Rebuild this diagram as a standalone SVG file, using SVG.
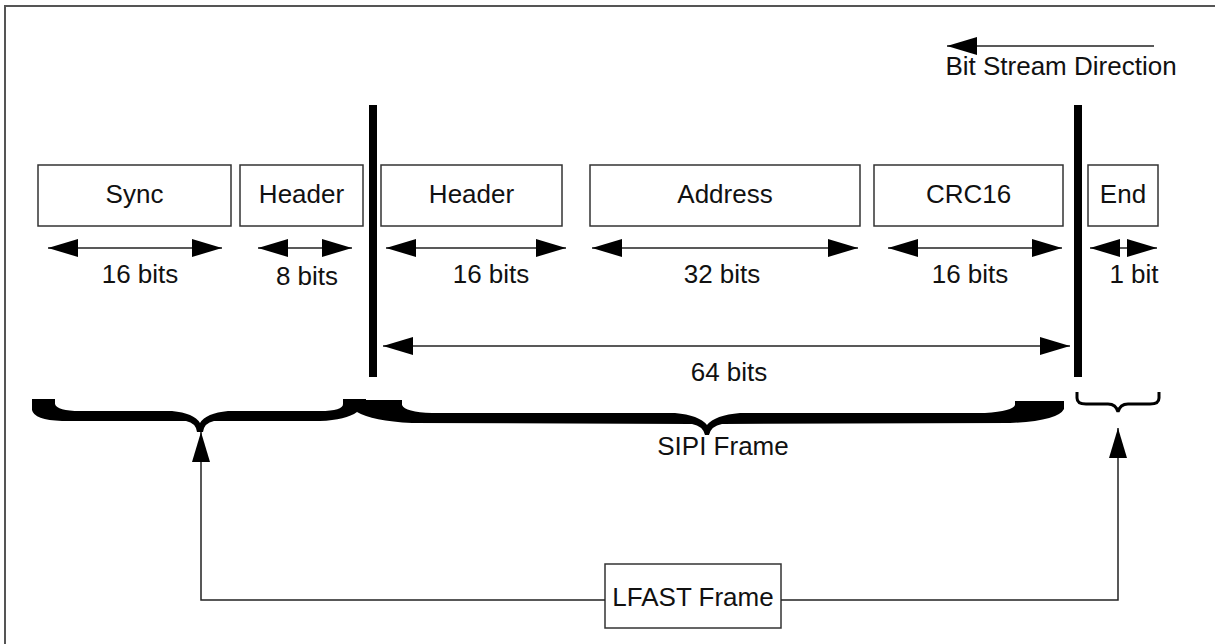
<svg xmlns="http://www.w3.org/2000/svg" width="1215" height="644" viewBox="0 0 1215 644">
<defs>
<marker id="ah" markerUnits="userSpaceOnUse" markerWidth="30" markerHeight="18" refX="30" refY="9" orient="auto-start-reverse" viewBox="0 0 30 18">
<path d="M0,0 L30,9 L0,18 Z" fill="#000"/>
</marker>
</defs>
<style>
.box{fill:#fff;stroke:#333;stroke-width:1.5}
.t{font-family:"Liberation Sans",Arial,sans-serif;font-size:26px;fill:#111;text-anchor:middle}
.dim{stroke:#222;stroke-width:1.5;fill:none;marker-start:url(#ah);marker-end:url(#ah)}
.con{stroke:#222;stroke-width:1.5;fill:none;marker-end:url(#ah)}
.bar{fill:#000}
.brace{fill:#000}
</style>
<rect width="1215" height="644" fill="#fff"/>
<rect x="5" y="6" width="1230" height="700" fill="none" stroke="#555" stroke-width="2"/>

<g id="direction">
<line x1="1154" y1="46" x2="947" y2="46" class="con"/>
<text x="1061" y="75" class="t">Bit Stream Direction</text>
</g>

<g id="sync"><rect x="38" y="165" width="193" height="61" class="box"/><text x="134.5" y="203" class="t">Sync</text></g>
<g id="header1"><rect x="240" y="165" width="123" height="61" class="box"/><text x="301.5" y="203" class="t">Header</text></g>
<g id="header2"><rect x="381" y="165" width="181" height="61" class="box"/><text x="471.5" y="203" class="t">Header</text></g>
<g id="address"><rect x="590" y="165" width="270" height="61" class="box"/><text x="725" y="203" class="t">Address</text></g>
<g id="crc16"><rect x="874" y="165" width="189" height="61" class="box"/><text x="968.5" y="203" class="t">CRC16</text></g>
<g id="end"><rect x="1088" y="165" width="70" height="61" class="box"/><text x="1123" y="203" class="t">End</text></g>

<g id="dividers">
<rect x="369" y="105" width="8" height="272" class="bar"/>
<rect x="1074" y="105" width="8" height="272" class="bar"/>
</g>

<g id="dimensions">
<line x1="48" y1="248" x2="222" y2="248" class="dim"/>
<text x="140" y="283" class="t">16 bits</text>
<line x1="258" y1="248" x2="352" y2="248" class="dim"/>
<text x="307" y="285" class="t">8 bits</text>
<line x1="386" y1="248" x2="566" y2="248" class="dim"/>
<text x="491" y="283" class="t">16 bits</text>
<line x1="592" y1="248" x2="858" y2="248" class="dim"/>
<text x="722" y="283" class="t">32 bits</text>
<line x1="888" y1="248" x2="1062" y2="248" class="dim"/>
<text x="970" y="283" class="t">16 bits</text>
<line x1="1090" y1="248" x2="1157" y2="248" class="dim"/>
<text x="1134" y="283" class="t">1 bit</text>
<line x1="383" y1="346" x2="1070" y2="346" class="dim"/>
<text x="729" y="381" class="t">64 bits</text>
</g>

<g id="braces">
<path class="brace" d="M32,399 L55,399 L55,404 Q57,411 80,411 L172,411 Q194,413 200,423 Q206,413 228,411 L320,411 Q343,411 343,404 L343,399 L366,399 L366,408 L357,412 Q346,420 320,421 L214,421 Q204,423 203,432 L197,432 Q196,423 186,421 L62,421 Q34,420 32,410 Z"/>
<path class="brace" d="M360,400 L402,400 L402,405 Q405,412 432,413 L675,413 Q699,415 707,425 Q715,415 740,413 L985,413 Q1013,411 1015,405 L1015,401 L1064,401 L1064,409 Q1058,421 1010,423 L722,424 Q711,426 709,435 L705,435 Q703,426 692,424 L412,423 Q372,421 357,412 Z"/>
<path d="M1077,392 L1077,398 Q1077,404 1086,404 L1108,404 Q1116,404 1118,412 Q1120,404 1128,404 L1150,404 Q1159,404 1159,398 L1159,392" fill="none" stroke="#000" stroke-width="3"/>
<text x="723" y="455" class="t">SIPI Frame</text>
</g>

<g id="lfast">
<rect x="605" y="564" width="176" height="64" class="box"/>
<text x="693" y="606" class="t">LFAST Frame</text>
</g>

<g id="connectors">
<polyline points="605,600 201,600 201,432" class="con"/>
<polyline points="781,600 1118,600 1118,428" class="con"/>
</g>
</svg>
